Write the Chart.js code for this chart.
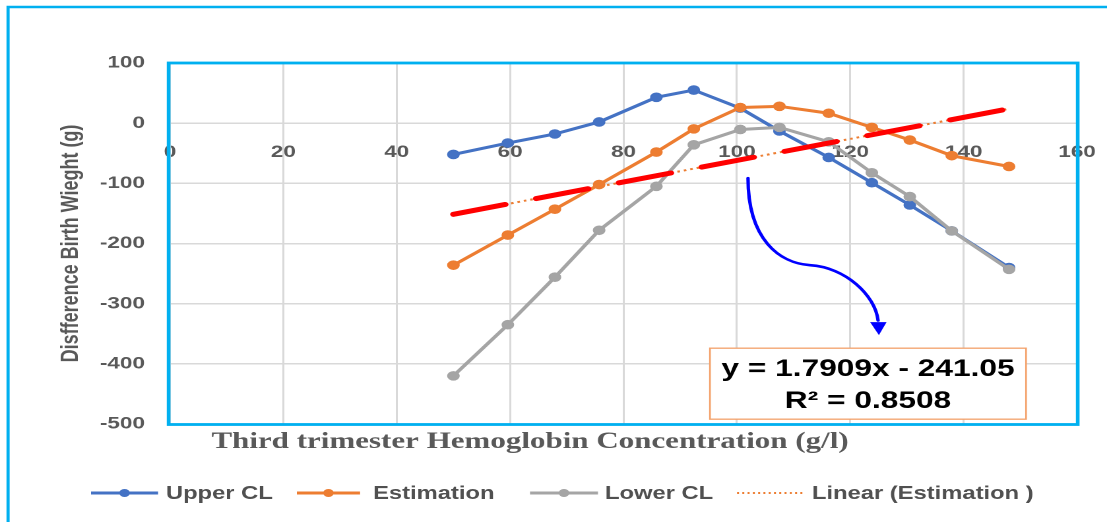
<!DOCTYPE html>
<html><head><meta charset="utf-8">
<script src="https://cdn.jsdelivr.net/npm/chart.js@4.4.1/dist/chart.umd.min.js"></script>
<style>
html,body{margin:0;padding:0;background:#fff;overflow:hidden;width:1107px;height:522px;}
#wrap{position:absolute;left:0;top:0;width:839px;height:522px;transform:scaleX(1.31943);transform-origin:0 0;}
</style></head><body>
<div id="wrap"><canvas id="c"></canvas></div>
<script>
// ---- data ----
const hemoglobin = [50, 59.6, 67.9, 75.7, 85.8, 92.4, 100.6, 107.5, 116.2, 123.8, 130.5, 137.9, 148];
const upperCL    = [-52, -33, -18, 2, 43, 55, 25, -13, -57, -99, -136, -179, -240];
const estimation = [-236, -186, -143, -102, -48, -9.5, 26, 28, 16.5, -7, -28, -54, -72];
const lowerCL    = [-420, -335, -256, -178, -105, -36, -10.5, -7, -31, -82.5, -122, -179, -243];
const trendX     = [50, 148];
const trendY     = [-151.5, 24];
const xTicks     = [0, 20, 40, 60, 80, 100, 120, 140, 160];
const yTicks     = [100, 0, -100, -200, -300, -400, -500];
const seriesNames = ['Upper CL', 'Estimation', 'Lower CL', 'Linear (Estimation )'];
const xTitle = 'Third trimester Hemoglobin Concentration (g/l)';
const yTitle = 'Disfference Birth Wieght (g)';
const trendEquation = 'y = 1.7909x - 241.05';
const trendR2 = 'R\u00B2 = 0.8508';

const BLUE = '#4472c4', ORANGE = '#ed7d31', GRAY = '#a5a5a5', RED = '#ff0000', FRAME = '#00b0f0', TXT = '#595959';

const pts = (xs, ys) => xs.map((v, i) => ({x: v, y: ys[i]}));

const lineDs = (label, ys, color, order) => ({
  label, data: pts(hemoglobin, ys), borderColor: color, backgroundColor: color,
  borderWidth: 3, pointRadius: 4.3, pointBackgroundColor: color, pointBorderColor: color,
  pointBorderWidth: 1, tension: 0, order
});

const deco = {
  id: 'deco',
  beforeDraw(chart) {
    const ctx = chart.ctx;
    ctx.save(); ctx.fillStyle = '#fff'; ctx.fillRect(0, 0, chart.width, chart.height); ctx.restore();
  },
  afterDraw(chart) {
    const {ctx, chartArea: a, scales: {x, y}} = chart;
    const px = v => x.getPixelForValue(v), py = v => y.getPixelForValue(v);
    ctx.save();
    // outer frame (top + left)
    ctx.strokeStyle = FRAME; ctx.lineWidth = 2.4;
    ctx.beginPath(); ctx.moveTo(6.1, chart.height); ctx.lineTo(6.1, 7); ctx.lineTo(chart.width + 5, 7); ctx.stroke();
    // plot border
    ctx.lineWidth = 2.8;
    ctx.strokeRect(a.left - 1, a.top, a.right - a.left + 1.5, a.bottom - a.top + 0.5);

    // x axis title
    ctx.fillStyle = TXT; ctx.font = 'bold 23.5px "Liberation Serif", "Times New Roman", serif';
    ctx.textAlign = 'center'; ctx.textBaseline = 'alphabetic';
    ctx.fillText(xTitle, 401.7, 448);

    // curved arrow
    ctx.strokeStyle = '#0000ff'; ctx.fillStyle = '#0000ff'; ctx.lineWidth = 2.6; ctx.lineCap = 'round';
    ctx.beginPath();
    ctx.moveTo(px(101.96), py(-91.4));
    ctx.bezierCurveTo(px(101.96), py(-194.4), px(107.6), py(-232.7), px(112.9), py(-236));
    ctx.bezierCurveTo(px(119.1), py(-239.3), px(124.4), py(-285.9), px(124.9), py(-328));
    ctx.stroke();
    ctx.beginPath();
    ctx.moveTo(px(123.5), py(-330.7)); ctx.lineTo(px(126.4), py(-330.7)); ctx.lineTo(px(125.05), py(-352.3));
    ctx.closePath(); ctx.fill();

    // equation box
    const bl = px(95.25), br = px(151.0), bt = py(-374), bb = py(-492);
    ctx.fillStyle = '#fff'; ctx.fillRect(bl, bt, br - bl, bb - bt);
    ctx.strokeStyle = '#f4a26b'; ctx.lineWidth = 1.3; ctx.strokeRect(bl, bt, br - bl, bb - bt);
    ctx.fillStyle = '#000'; ctx.font = 'bold 24px "Liberation Sans", Arial, sans-serif';
    ctx.textAlign = 'center'; ctx.textBaseline = 'alphabetic';
    ctx.fillText(trendEquation, (bl + br) / 2, 376);
    ctx.fillText(trendR2, (bl + br) / 2, 408);

    // legend
    const ly = 493;
    const items = [
      {x0: 69, x1: 119.8, tx: 125.8, c: BLUE, dot: true},
      {x0: 225, x1: 272.9, tx: 282.7, c: ORANGE, dot: true},
      {x0: 401.7, x1: 453.2, tx: 458.5, c: GRAY, dot: true},
      {x0: 558.6, x1: 608.6, tx: 615.4, c: ORANGE, dot: false}
    ];
    ctx.font = 'bold 18px "Liberation Sans", Arial, sans-serif';
    ctx.textAlign = 'left'; ctx.textBaseline = 'middle'; ctx.lineCap = 'butt';
    items.forEach((it, i) => {
      ctx.strokeStyle = it.c;
      if (it.dot) {
        ctx.lineWidth = 3; ctx.setLineDash([]);
        ctx.beginPath(); ctx.moveTo(it.x0, ly); ctx.lineTo(it.x1, ly); ctx.stroke();
        ctx.fillStyle = it.c; ctx.beginPath(); ctx.arc((it.x0 + it.x1) / 2, ly, 4, 0, Math.PI * 2); ctx.fill();
      } else {
        ctx.lineWidth = 2; ctx.setLineDash([1.5, 2.5]);
        ctx.beginPath(); ctx.moveTo(it.x0, ly); ctx.lineTo(it.x1, ly); ctx.stroke();
        ctx.setLineDash([]);
      }
      ctx.fillStyle = '#505050';
      ctx.fillText(seriesNames[i], it.tx, ly + 1);
    });
    ctx.restore();
  }
};

new Chart(document.getElementById('c'), {
  type: 'line',
  data: {
    datasets: [
      lineDs(seriesNames[0], upperCL, BLUE, 4),
      lineDs(seriesNames[1], estimation, ORANGE, 3),
      lineDs(seriesNames[2], lowerCL, GRAY, 2),
      {label: seriesNames[3], data: pts(trendX, trendY), borderColor: ORANGE, borderWidth: 2,
       borderDash: [2, 3], pointRadius: 0, tension: 0, order: 1},
      {label: 'trend-highlight', data: pts(trendX, trendY), borderColor: RED, borderWidth: 5,
       borderDash: [40.5, 24.2], borderCapStyle: 'round', pointRadius: 0, tension: 0, order: 0}
    ]
  },
  options: {
    responsive: true, maintainAspectRatio: false, animation: false, devicePixelRatio: 2,
    layout: {padding: {left: 0, right: 22.7, top: 63, bottom: 98}},
    plugins: {legend: {display: false}, tooltip: {enabled: false}},
    scales: {
      x: {
        type: 'linear', min: 0, max: 160, position: {y: 0},
        afterBuildTicks: s => { s.ticks = xTicks.map(v => ({value: v})); },
        afterFit: s => { s.paddingLeft = 0; s.paddingRight = 0; },
        grid: {color: '#d9d9d9', lineWidth: 1.5, drawTicks: false},
        border: {display: true, color: '#d9d9d9', width: 1.5},
        ticks: {color: TXT, padding: 19, font: {family: '"Liberation Sans", Arial, sans-serif', size: 17, weight: 'bold'}}
      },
      y: {
        type: 'linear', min: -500, max: 100,
        afterBuildTicks: s => { s.ticks = yTicks.slice().reverse().map(v => ({value: v})); },
        afterFit: s => { s.width = 128.8; },
        grid: {color: '#d9d9d9', lineWidth: 1.5, drawTicks: false},
        border: {display: true, color: '#d9d9d9', width: 1.5},
        ticks: {color: TXT, padding: 19, font: {family: '"Liberation Sans", Arial, sans-serif', size: 17, weight: 'bold'}},
        title: {display: true, text: yTitle, color: TXT, padding: {top: 43, bottom: 0},
                font: {family: '"Liberation Sans", Arial, sans-serif', size: 18, weight: 'bold'}}
      }
    }
  },
  plugins: [deco]
});
</script>
</body></html>
